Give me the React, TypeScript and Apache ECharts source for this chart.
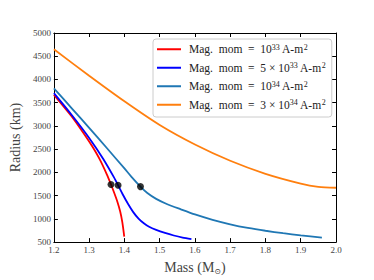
import React, { useEffect, useRef } from "react";
import * as echarts from "echarts";

const seriesNames = [
  "Mag. mom = 10^33 A-m^2",
  "Mag. mom = 5 × 10^33 A-m^2",
  "Mag. mom = 10^34 A-m^2",
  "Mag. mom = 3 × 10^34 A-m^2",
];
const legendRich = [
  "Mag.  mom  =  10{sup|33} A-m{sup|2}",
  "Mag.  mom  =  5 × 10{sup|33} A-m{sup|2}",
  "Mag.  mom  =  10{sup|34} A-m{sup|2}",
  "Mag.  mom  =  3 × 10{sup|34} A-m{sup|2}",
];
const seriesColors = ["#ff0000", "#0000ff", "#1f77b4", "#ff7f0e"];

const redCurve: [number, number][] = [
  [1.2, 3670], [1.25, 3210], [1.29, 2780], [1.31, 2545], [1.33, 2280],
  [1.35, 1960], [1.362, 1740], [1.372, 1540], [1.38, 1370], [1.388, 1160],
  [1.394, 930], [1.3995, 620],
];
const blueCurve: [number, number][] = [
  [1.2, 3705], [1.25, 3240], [1.3, 2740], [1.34, 2288], [1.37, 1898],
  [1.382, 1725], [1.395, 1530], [1.41, 1325], [1.425, 1145], [1.44, 1005],
  [1.455, 905], [1.47, 830], [1.49, 763], [1.515, 697], [1.54, 642],
  [1.565, 598], [1.59, 565],
];
const lightBlueCurve: [number, number][] = [
  [1.2, 3810], [1.25, 3385], [1.3, 2960], [1.35, 2525], [1.4, 2085],
  [1.42, 1905], [1.4455, 1694], [1.465, 1555], [1.49, 1430], [1.52, 1320],
  [1.56, 1205], [1.6, 1095], [1.65, 979], [1.7, 884], [1.75, 806],
  [1.8, 744], [1.85, 691], [1.9, 646], [1.96, 598],
];
const orangeCurve: [number, number][] = [
  [1.2, 4650], [1.3, 4080], [1.4, 3530], [1.5, 3020], [1.6, 2600],
  [1.7, 2250], [1.8, 1970], [1.9, 1760], [1.95, 1690], [2.0, 1670],
];
const markerPoints: [number, number][] = [
  [1.362, 1740], [1.382, 1725], [1.4455, 1694],
];

const xMin = 1.2, xMax = 2.0, xStep = 0.1;
const yMin = 500, yMax = 5000, yStep = 500;

const FONT = "'Liberation Serif', 'DejaVu Serif', serif";

export default function App() {
  const ref = useRef<HTMLDivElement>(null);
  useEffect(() => {
    if (!ref.current) return;
    const chart = echarts.init(ref.current, undefined, { renderer: "svg" });
    const curves = [redCurve, blueCurve, lightBlueCurve, orangeCurve];
    const tickCommon = {
      axisLine: { show: true, onZero: false, lineStyle: { color: "#000", width: 1 } },
      axisTick: { show: true, inside: true, length: 4, lineStyle: { color: "#000", width: 1 } },
      splitLine: { show: false },
    };
    chart.setOption({
      animation: false,
      backgroundColor: "#fff",
      grid: { left: 46, right: 38, top: 33, bottom: 31, containLabel: false },
      xAxis: [
        {
          type: "value", min: xMin, max: xMax, interval: xStep, position: "bottom",
          ...tickCommon,
          axisLabel: {
            show: true, margin: 3, color: "#444", fontFamily: FONT, fontSize: 9,
            formatter: (v: number) => v.toFixed(1),
          },
          name: "Mass (M{s|⊙})", nameLocation: "middle", nameGap: 12,
          nameTextStyle: {
            fontFamily: FONT, fontSize: 14, color: "#444", lineHeight: 16,
            rich: { s: { fontFamily: "'DejaVu Serif', serif", fontSize: 8, color: "#444", verticalAlign: "bottom", lineHeight: 16 } },
          },
        },
        {
          type: "value", min: xMin, max: xMax, interval: xStep, position: "top",
          ...tickCommon, axisLabel: { show: false },
        },
      ],
      yAxis: [
        {
          type: "value", min: yMin, max: yMax, interval: yStep, position: "left",
          ...tickCommon,
          axisLabel: {
            show: true, margin: 3, color: "#444", fontFamily: FONT, fontSize: 9,
            formatter: (v: number) => String(v),
          },
          name: "Radius (km)", nameLocation: "middle", nameGap: 25,
          nameTextStyle: { fontFamily: FONT, fontSize: 14, color: "#444" },
        },
        {
          type: "value", min: yMin, max: yMax, interval: yStep, position: "right",
          ...tickCommon, axisLabel: { show: false },
        },
      ],
      legend: {
        data: seriesNames,
        orient: "vertical",
        left: 153, top: 39,
        padding: [4, 6, 6, 4],
        itemGap: 6,
        itemWidth: 24, itemHeight: 2,
        icon: "rect",
        backgroundColor: "rgba(255,255,255,0.8)",
        borderColor: "#ccc", borderWidth: 1, borderRadius: 3,
        formatter: (name: string) => legendRich[seriesNames.indexOf(name)],
        textStyle: {
          fontFamily: FONT, fontSize: 11.5, color: "#222", lineHeight: 12.5,
          padding: [0, 0, 0, 3],
          rich: {
            sup: { fontFamily: FONT, fontSize: 8, color: "#222", verticalAlign: "top", lineHeight: 12.5 },
          },
        },
      },
      series: [
        ...curves.map((c, i) => ({
          type: "line", name: seriesNames[i], data: c, symbol: "none",
          smooth: 0.25,
          xAxisIndex: 0, yAxisIndex: 0,
          lineStyle: { color: seriesColors[i], width: 1.8 },
          itemStyle: { color: seriesColors[i] },
          z: 2,
        })),
        {
          type: "scatter", data: markerPoints, symbolSize: 7,
          itemStyle: { color: "#000" }, z: 5,
        },
      ],
    });
    return () => chart.dispose();
  }, []);
  return (
    <div
      ref={ref}
      style={{ position: "fixed", left: 0, top: 0, width: 374, height: 280 }}
    />
  );
}
